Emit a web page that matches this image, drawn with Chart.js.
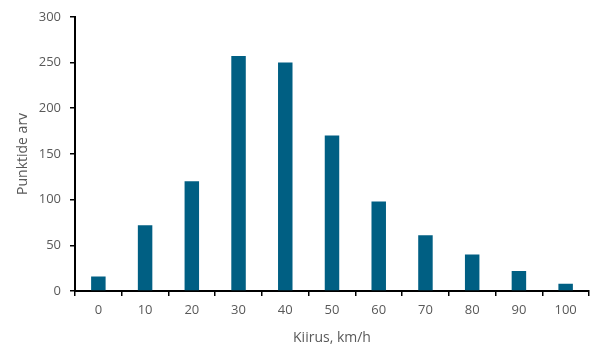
<!DOCTYPE html>
<html>
<head>
<meta charset="utf-8">
<script src="https://cdn.jsdelivr.net/npm/chart.js@4/dist/chart.umd.min.js"></script>
<style>
html,body{margin:0;padding:0;background:#fff;}
#wrap{width:609px;height:356px;position:relative;}
</style>
</head>
<body>
<div id="wrap"><canvas id="c"></canvas></div>
<script>
const categories = ["0","10","20","30","40","50","60","70","80","90","100"];
const counts = [16, 72, 120, 257, 250, 170, 98, 61, 40, 22, 8];
const yTicks = [0, 50, 100, 150, 200, 250, 300];
const xTitle = "Kiirus, km/h";
const yTitle = "Punktide arv";

const textColor = "#595959";
const fontFamily = "'Open Sans', 'Liberation Sans', sans-serif";

new Chart(document.getElementById('c'), {
  type: 'bar',
  data: {
    labels: categories,
    datasets: [{
      data: counts,
      backgroundColor: '#005F83',
      borderWidth: 0,
      categoryPercentage: 1,
      barPercentage: 0.31
    }]
  },
  options: {
    responsive: true,
    maintainAspectRatio: false,
    animation: false,
    devicePixelRatio: 1,
    layout: { padding: { left: 0, right: 20, top: 15, bottom: 0 } },
    plugins: { legend: { display: false }, tooltip: { enabled: false } },
    scales: {
      x: {
        grid: { display: true, drawOnChartArea: false, offset: true, color: '#000', tickLength: 5, lineWidth: 1.5 },
        border: { display: true, color: '#000', width: 2 },
        ticks: { color: textColor, font: { family: fontFamily, size: 13 }, padding: 6, maxRotation: 0 },
        title: { display: true, text: xTitle, color: textColor, font: { family: fontFamily, size: 14 }, padding: { top: 6, bottom: 10 } },
        afterFit: s => { s.height = 65; }
      },
      y: {
        min: 0, max: 300,
        afterBuildTicks: s => { s.ticks = yTicks.map(v => ({ value: v })); },
        grid: { display: true, drawOnChartArea: false, color: '#000', tickLength: 5, lineWidth: 1.5 },
        border: { display: true, color: '#000', width: 2 },
        ticks: { color: textColor, font: { family: fontFamily, size: 13 }, padding: 9 },
        title: { display: true, text: yTitle, color: textColor, font: { family: fontFamily, size: 14 }, padding: { top: 15, bottom: 4 } },
        afterFit: s => { s.width = 75; }
      }
    }
  }
});
</script>
</body>
</html>
